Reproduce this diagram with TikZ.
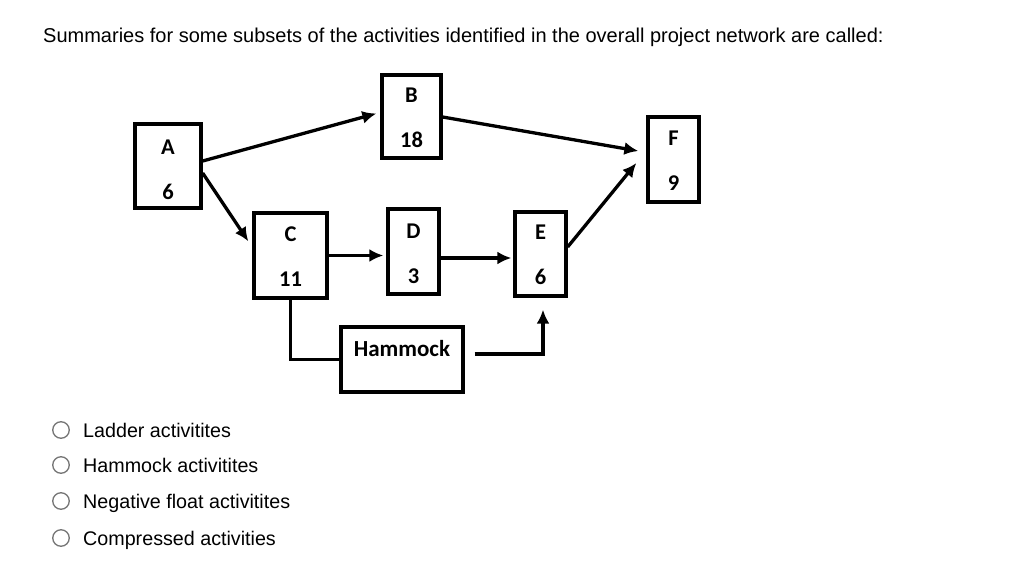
\documentclass[tikz,border=0pt]{standalone}
\usepackage{fontspec}
\setmainfont{Liberation Sans}
\newfontfamily\boxfont{Carlito}
\usetikzlibrary{arrows.meta}
\definecolor{radiogray}{HTML}{767676}
\tikzset{
  actbox/.style={draw=black, line width=3.3pt, inner sep=0pt},
  lbl/.style={inner sep=0pt, align=center,
    font={\boxfont\fontsize{22.5}{45}\selectfont\bfseries}},
  conn/.style={line width=3.3pt, -{Latex[length=14pt,width=13pt]}},
  plainconn/.style={line width=3.3pt},
  radio/.style={circle, draw=radiogray, line width=1.3pt, minimum size=16.5pt, inner sep=0pt},
  opt/.style={anchor=base west, font={\fontsize{19.7}{22}\selectfont}, inner sep=0pt},
}
\begin{document}
\begin{tikzpicture}[x=1pt,y=-1pt]
\useasboundingbox[fill=white] (0,0) rectangle (1009,573);
\node[anchor=base west, inner sep=0pt, font={\fontsize{20}{24}\selectfont}] (title) at (43,42)
  {Summaries for some subsets of the activities identified in the overall project network are called:};

\node[actbox, minimum width=66pt, minimum height=84pt] (A) at (168,166) {};
\node[actbox, minimum width=59pt, minimum height=83pt] (B) at (411.5,116.5) {};
\node[actbox, minimum width=51pt, minimum height=85pt] (F) at (673.5,159.5) {};
\node[actbox, minimum width=73pt, minimum height=85pt] (C) at (290.5,255.5) {};
\node[actbox, minimum width=51pt, minimum height=85pt] (D) at (413.5,251.5) {};
\node[actbox, minimum width=51pt, minimum height=84pt] (E) at (540.5,254) {};
\node[actbox, minimum width=122pt, minimum height=65pt] (H) at (402,359.5) {};

\node[lbl] (Al) at ([yshift=-3.5pt]A.center) {A\\6};
\node[lbl] (Bl) at ([yshift=-1.5pt]B.center) {B\\18};
\node[lbl] (Fl) at ([yshift=-1pt]F.center) {F\\9};
\node[lbl] (Cl) at ([yshift=-1pt]C.center) {C\\11};
\node[lbl] (Dl) at ([yshift=-2pt]D.center) {D\\3};
\node[lbl] (El) at ([yshift=-1pt]E.center) {E\\6};
\node[font={\boxfont\fontsize{23}{26}\selectfont\bfseries}, inner sep=0pt] (Hl) at (402,349) {Hammock};

\draw[conn] ([yshift=5pt]A.east) -- ([xshift=-4pt,yshift=3pt]B.west);
\draw[conn] ([yshift=-7pt]A.east) -- ([xshift=-4pt,yshift=-30pt]C.north west);
\draw[conn] ([yshift=-0.5pt]B.east) -- ([xshift=-8pt,yshift=8.5pt]F.west);
\draw[conn] ([yshift=7pt]E.east) -- ([xshift=-10pt,yshift=-3.5pt]F.west);
\draw[conn] (C.east) -- ([xshift=-3pt]C.east -| D.west);
\draw[conn] ([yshift=-6.5pt]D.east) -- ([xshift=-2pt,yshift=-6.5pt]D.east -| E.west);
\draw[plainconn] (C.south) |- (H.west);
\coordinate (hs) at ([xshift=10pt,yshift=5.5pt]H.east);
\draw[conn] (hs) -| ([xshift=2.5pt,yshift=-12pt]E.south);

\node[radio] (r1) at (61,430) {};
\node[radio] (r2) at (61,465) {};
\node[radio] (r3) at (61,501) {};
\node[radio] (r4) at (61,538) {};
\node[opt] (o1) at (83,437) {Ladder activitites};
\node[opt] (o2) at (83,472) {Hammock activitites};
\node[opt] (o3) at (83,508) {Negative float activitites};
\node[opt] (o4) at (83,545) {Compressed activities};
\end{tikzpicture}
\end{document}
